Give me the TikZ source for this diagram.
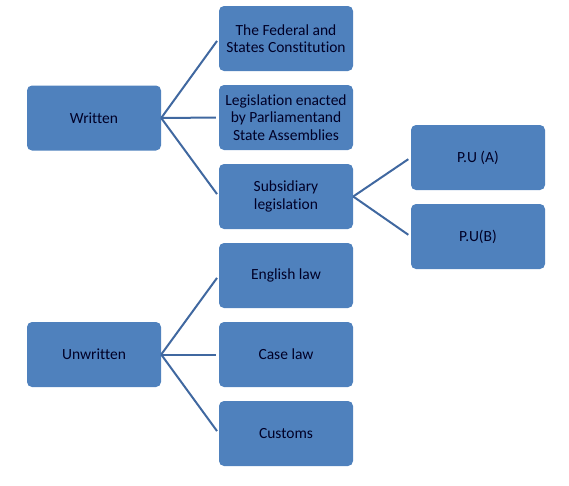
\documentclass[tikz,border=0pt]{standalone}
\usepackage{fontspec}
\setmainfont{Carlito}[Ligatures=NoCommon]
\definecolor{boxblue}{HTML}{4F81BD}
\definecolor{lineblue}{HTML}{4068A0}
\begin{document}
\begin{tikzpicture}[x=1pt,y=-1pt]
			\useasboundingbox (0,0) rectangle (569,485);
			\begin{scope}[every node/.style={fill=boxblue, rounded corners=5pt, minimum width=134pt, minimum height=65pt, align=center, text=black!85!blue, font=\fontsize{15.5pt}{17.5pt}\selectfont, inner sep=1pt}]
				\node (written) at (94,118) {Written};
				\node (unwritten) at (94,354.5) {Unwritten};
				\node (federal) at (286,38.5) {The Federal and\\States Constitution};
				\node (enacted) at (286,117.5) {Legislation enacted\\by Parliamentand\\State Assemblies};
				\node (subsid) at (286,196.5) {Subsidiary\\legislation};
				\node (english) at (286,275.5) {English law};
				\node (case) at (286,354.5) {Case law};
				\node (customs) at (286,433.5) {Customs};
				\node (pua) at (478,157.5) {P.U (A)};
				\node (pub) at (478,236.5) {P.U(B)};
			\end{scope}
			\begin{scope}[every edge/.style={draw=lineblue, line width=2pt, shorten >=3pt}]
				\path [-] (written.east) edge (federal.west);
				\path [-] (written.east) edge (enacted.west);
				\path [-] (written.east) edge (subsid.west);
				\path [-] (unwritten.east) edge (english.west);
				\path [-] (unwritten.east) edge (case.west);
				\path [-] (unwritten.east) edge (customs.west);
				\path [-] (subsid.east) edge (pua.west);
				\path [-] (subsid.east) edge (pub.west);
			\end{scope}
		\end{tikzpicture}
\end{document}
